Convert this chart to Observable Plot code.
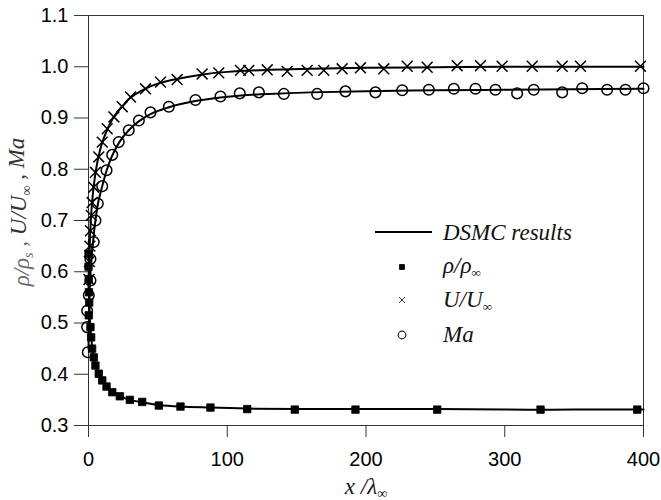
<!DOCTYPE html>
<html>
<head>
<meta charset="utf-8">
<script src="https://cdn.jsdelivr.net/npm/d3@7"></script>
<script src="https://cdn.jsdelivr.net/npm/@observablehq/plot@0.6"></script>
<style>
  body { margin: 0; background: #fff; }
  #chart { width: 661px; height: 500px; }
</style>
</head>
<body>
<div id="chart"></div>
<script>
// Axis ticks
const xTicks = [0, 100, 200, 300, 400];
const yTicks = [0.3, 0.4, 0.5, 0.6, 0.7, 0.8, 0.9, 1.0, 1.1];

// DSMC results (solid curves)
const rhoLineX = [0, 0.5, 1, 2, 3, 4, 5, 7, 10, 13, 17, 23, 30, 39, 51, 66, 88, 115, 150, 200, 250, 300, 350, 400];
const rhoLineV = [0.64, 0.55, 0.505, 0.47, 0.447, 0.431, 0.418, 0.401, 0.387, 0.376, 0.366, 0.357, 0.350, 0.345, 0.340, 0.337, 0.335, 0.333, 0.332, 0.332, 0.332, 0.331, 0.331, 0.331];

const uLineX = [0, 0.5, 1, 2, 3, 4, 5, 7, 10, 14, 18, 24, 30, 40, 50, 60, 80, 100, 130, 160, 200, 250, 300, 350, 400];
const uLineV = [0.57, 0.62, 0.66, 0.715, 0.748, 0.772, 0.792, 0.822, 0.853, 0.880, 0.901, 0.922, 0.939, 0.956, 0.967, 0.974, 0.984, 0.990, 0.994, 0.996, 0.998, 0.999, 1.000, 1.000, 1.000];

const maLineX = [0, 0.5, 1, 2, 3, 4, 5, 7, 10, 13, 17, 22, 29, 36, 45, 58, 77, 95, 110, 130, 160, 200, 250, 300, 350, 400];
const maLineV = [0.45, 0.53, 0.575, 0.62, 0.65, 0.678, 0.70, 0.735, 0.768, 0.797, 0.826, 0.852, 0.876, 0.893, 0.908, 0.921, 0.933, 0.940, 0.944, 0.947, 0.950, 0.952, 0.954, 0.955, 0.956, 0.957];

// Symbols: rho / rho_inf
const rhoPtX = [0, 0, 0.2, 0.3, 0.5, 0.2, 1.4, 1.9, 2.6, 3.8, 5.0, 7.4, 9.9, 13.0, 17.1, 22.6, 29.8, 38.7, 50.7, 66.3, 87.9, 114.4, 148.7, 192.4, 251.3, 325.8, 395.5];
const rhoPtV = [0.635, 0.61, 0.585, 0.56, 0.54, 0.515, 0.492, 0.472, 0.450, 0.433, 0.417, 0.401, 0.388, 0.376, 0.365, 0.357, 0.350, 0.346, 0.339, 0.337, 0.335, 0.332, 0.331, 0.331, 0.331, 0.331, 0.331];

// Symbols: U / U_inf
const uPtX = [0.3, 0.6, 1.0, 1.4, 2.0, 2.6, 3.8, 5.0, 7.4, 9.9, 13.5, 18.3, 24.3, 30.3, 41.1, 51.9, 63.9, 81.9, 93.9, 109.5, 115.5, 128.8, 143.2, 157.6, 169.6, 182.8, 196.0, 212.8, 229.7, 244.1, 265.7, 282.5, 298.1, 319.8, 341.4, 354.6, 397.8];
const uPtV = [0.585, 0.62, 0.65, 0.68, 0.71, 0.735, 0.765, 0.794, 0.824, 0.853, 0.879, 0.902, 0.922, 0.941, 0.957, 0.970, 0.975, 0.986, 0.988, 0.993, 0.993, 0.994, 0.991, 0.993, 0.993, 0.996, 0.998, 0.996, 1.001, 0.999, 1.002, 1.002, 1.001, 1.001, 1.001, 1.001, 1.001];

// Symbols: Mach number
const maPtX = [-0.5, -1, -1, 0.2, 1.4, 1.4, 3.8, 5.0, 6.7, 9.9, 13.0, 17.1, 21.8, 29.0, 36.3, 44.7, 57.9, 77.1, 95.1, 109.0, 122.8, 140.8, 164.8, 185.2, 206.8, 226.1, 245.3, 263.3, 278.9, 293.3, 308.9, 320.9, 341.4, 355.8, 373.8, 387.0, 400.0];
const maPtV = [0.443, 0.492, 0.524, 0.554, 0.583, 0.625, 0.658, 0.700, 0.733, 0.767, 0.798, 0.828, 0.853, 0.876, 0.895, 0.911, 0.922, 0.935, 0.942, 0.948, 0.950, 0.947, 0.947, 0.952, 0.950, 0.954, 0.955, 0.957, 0.957, 0.955, 0.948, 0.955, 0.950, 0.958, 0.955, 0.955, 0.958];

const rows = (xs, vs) => xs.map((x, i) => ({x, v: vs[i]}));

const chart = Plot.plot({
  width: 661,
  height: 500,
  marginLeft: 88,
  marginRight: 18,
  marginTop: 15,
  marginBottom: 75,
  style: {fontFamily: "'Liberation Sans', Arial, sans-serif", fontSize: "20px", color: "#000", background: "#fff", overflow: "visible"},
  x: {domain: [0, 400]},
  y: {domain: [0.3, 1.1]},
  marks: [
    Plot.frame({stroke: "#333", strokeWidth: 1}),
    Plot.axisX({ticks: xTicks, tickSize: 12, tickPadding: 14, label: null, stroke: "#333", fill: "#000"}),
    Plot.axisY({ticks: yTicks, tickSize: 14, tickPadding: 6, tickFormat: d3.format(".1f"), label: null, stroke: "#333", fill: "#000"}),
    Plot.line(rows(rhoLineX, rhoLineV), {x: "x", y: "v", stroke: "#000", strokeWidth: 2, curve: "catmull-rom"}),
    Plot.line(rows(uLineX, uLineV), {x: "x", y: "v", stroke: "#000", strokeWidth: 2, curve: "catmull-rom"}),
    Plot.line(rows(maLineX, maLineV), {x: "x", y: "v", stroke: "#000", strokeWidth: 2, curve: "catmull-rom"}),
    Plot.dot(rows(rhoPtX, rhoPtV), {x: "x", y: "v", symbol: "square", r: 4.2, fill: "#000", stroke: "#000", strokeWidth: 0.8, strokeLinejoin: "round"}),
    Plot.dot(rows(uPtX, uPtV), {x: "x", y: "v", symbol: "times", r: 5, stroke: "#000", strokeWidth: 1.5}),
    Plot.dot(rows(maPtX, maPtV), {x: "x", y: "v", symbol: "circle", r: 5.3, stroke: "#000", fill: "none", strokeWidth: 1.5})
  ]
});

document.getElementById("chart").appendChild(chart);

const svg = d3.select(chart);
const serif = "'Liberation Serif', 'Times New Roman', serif";

// Y axis title: rho/rho_s , U/U_inf , Ma
const yTitle = svg.append("text")
  .attr("transform", "translate(29,212) rotate(-90)")
  .attr("text-anchor", "middle")
  .style("font-family", serif)
  .style("font-style", "italic")
  .style("font-size", "23px");
const sub = (t, s, color) => {
  t.append("tspan").attr("dy", "0.3em").attr("font-size", "14px").attr("fill", color).text(s);
};
yTitle.append("tspan").attr("fill", "#666").text("\u03c1/\u03c1");
sub(yTitle, "s", "#666");
yTitle.append("tspan").attr("dy", "-0.3em").attr("fill", "#666").text(" , ");
yTitle.append("tspan").attr("fill", "#333").text("U/U");
sub(yTitle, "\u221e", "#333");
yTitle.append("tspan").attr("dy", "-0.3em").attr("fill", "#333").text(" , Ma");

// X axis title: x / lambda_inf
const xTitle = svg.append("text")
  .attr("x", 366)
  .attr("y", 494)
  .attr("text-anchor", "middle")
  .style("font-family", serif)
  .style("font-style", "italic")
  .style("font-size", "23px")
  .attr("fill", "#111");
xTitle.append("tspan").text("x /\u03bb");
xTitle.append("tspan").attr("dy", "0.25em").attr("font-size", "14px").text("\u221e");

// Legend
const lg = svg.append("g")
  .attr("text-anchor", "start")
  .style("font-family", serif)
  .style("font-style", "italic")
  .style("font-size", "23px")
  .attr("fill", "#111");
lg.append("line").attr("x1", 375).attr("x2", 432).attr("y1", 232).attr("y2", 232)
  .attr("stroke", "#000").attr("stroke-width", 2);
lg.append("text").attr("x", 443).attr("y", 240).text("DSMC results");

lg.append("rect").attr("x", 399.5).attr("y", 264.5).attr("width", 5).attr("height", 5)
  .attr("fill", "#000").attr("stroke", "#000").attr("stroke-width", 0.8).attr("stroke-linejoin", "round");
const r1 = lg.append("text").attr("x", 443).attr("y", 273);
r1.append("tspan").text("\u03c1/\u03c1");
r1.append("tspan").attr("dy", "0.3em").attr("font-size", "13px").text("\u221e");

lg.append("path").attr("d", "M399,297L405,303M405,297L399,303")
  .attr("stroke", "#333").attr("stroke-width", 1).attr("fill", "none");
const r2 = lg.append("text").attr("x", 443).attr("y", 307);
r2.append("tspan").text("U/U");
r2.append("tspan").attr("dy", "0.3em").attr("font-size", "13px").text("\u221e");

lg.append("circle").attr("cx", 402).attr("cy", 335).attr("r", 3.8)
  .attr("stroke", "#222").attr("stroke-width", 1.2).attr("fill", "none");
lg.append("text").attr("x", 443).attr("y", 342).text("Ma");
</script>
</body>
</html>
